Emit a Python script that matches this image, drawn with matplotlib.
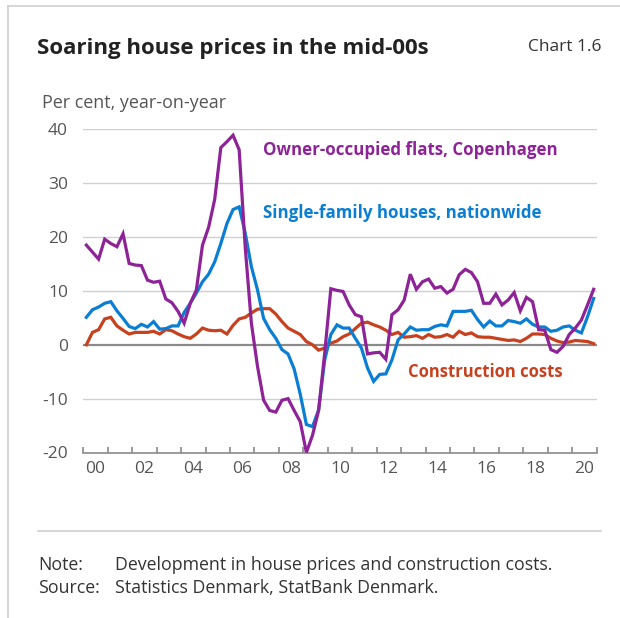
import numpy as np
import matplotlib
matplotlib.use("Agg")
import matplotlib.pyplot as plt
from matplotlib.lines import Line2D

# quarterly data, 2000Q1 - 2020Q4, per cent y/y
flats_cph = [18.5, 17.2, 15.9, 19.6, 18.8, 18.2, 20.6, 15.1, 14.8, 14.7, 12.0, 11.6,
             11.8, 8.5, 7.8, 6.2, 4.0, 7.7, 10.2, 18.5, 21.8, 27.0, 36.6, 37.7,
             38.9, 36.2, 18.0, 4.0, -4.0, -10.3, -12.2, -12.5, -10.3, -10.0, -12.2, -14.3,
             -20.0, -16.8, -12.2, -1.5, 10.4, 10.1, 9.9, 7.4, 5.6, 5.2, -1.7, -1.5,
             -1.4, -2.7, 5.6, 6.5, 8.3, 13.1, 10.3, 11.7, 12.2, 10.5, 10.8, 9.6,
             10.3, 13.0, 14.0, 13.4, 11.7, 7.7, 7.7, 9.4, 7.4, 8.3, 9.7, 6.3,
             8.8, 8.0, 2.8, 2.7, -0.9, -1.4, -0.3, 1.9, 3.1, 4.6, 7.4, 10.3]

houses_nat = [5.1, 6.5, 7.0, 7.7, 8.0, 6.3, 4.9, 3.4, 3.0, 3.8, 3.3, 4.3,
              2.9, 3.0, 3.5, 3.5, 6.0, 7.7, 9.6, 11.7, 13.1, 15.4, 18.8, 22.5,
              25.1, 25.6, 20.7, 14.5, 10.2, 4.9, 2.8, 1.2, -0.9, -1.7, -4.5, -9.2,
              -14.8, -15.2, -12.1, -2.8, 1.9, 3.7, 3.1, 3.1, 1.2, -0.6, -4.3, -6.8,
              -5.5, -5.4, -2.8, 0.9, 2.0, 3.3, 2.7, 2.8, 2.8, 3.4, 3.7, 3.5,
              6.2, 6.2, 6.2, 6.4, 4.7, 3.3, 4.4, 3.5, 3.5, 4.5, 4.3, 4.0,
              4.8, 3.8, 3.3, 3.3, 2.5, 2.7, 3.3, 3.5, 2.7, 2.2, 5.2, 8.6]

constr_costs = [0.0, 2.3, 2.8, 4.8, 5.1, 3.5, 2.7, 2.0, 2.3, 2.3, 2.3, 2.5,
                2.0, 2.8, 2.6, 2.0, 1.5, 1.2, 2.0, 3.1, 2.7, 2.6, 2.7, 2.0,
                3.6, 4.8, 5.1, 5.9, 6.6, 6.7, 6.7, 5.7, 4.3, 3.1, 2.5, 1.9,
                0.6, 0.0, -1.0, -0.6, 0.3, 0.7, 1.5, 2.0, 3.0, 4.0, 4.2, 3.7,
                3.3, 2.7, 1.9, 2.3, 1.4, 1.5, 1.7, 1.2, 1.9, 1.4, 1.5, 1.9,
                1.4, 2.5, 1.9, 2.2, 1.5, 1.4, 1.4, 1.2, 1.0, 0.8, 0.9, 0.6,
                1.2, 2.0, 2.0, 1.9, 1.2, 0.7, 0.4, 0.5, 0.8, 0.7, 0.6, 0.2]

year_labels = ["00", "02", "04", "06", "08", "10", "12", "14", "16", "18", "20"]
y_ticks = [-20, -10, 0, 10, 20, 30, 40]

purple = "#8E2398"
blue = "#0A7ED3"
red = "#C8411F"
grey_txt = "#555555"

plt.rcParams['font.family'] = ['Open Sans', 'DejaVu Sans']

fig = plt.figure(figsize=(6.2, 6.18), dpi=100)
W, H = 620, 618

def fx(px):
  return px / W

def fy(py):
  return 1 - py / H

ax = fig.add_axes([fx(83.3), fy(452.5), fx(596.7) - fx(83.3), fy(129.3) - fy(452.5)])

t = 2000 + (np.arange(len(flats_cph)) + 0.5) / 4
ax.plot(t, constr_costs, color=red, lw=2.3, solid_joinstyle='miter', zorder=3)
ax.plot(t, houses_nat, color=blue, lw=2.3, solid_joinstyle='miter', zorder=4)
ax.plot(t, flats_cph, color=purple, lw=2.3, solid_joinstyle='miter', zorder=5)

ax.set_xlim(2000, 2021)
ax.set_ylim(-20, 40)

for v in y_ticks[1:]:
  if v == 0:
    ax.axhline(0, color="#8a8a8a", lw=1.6, zorder=2)
  else:
    ax.axhline(v, color="#d0d0d0", lw=1.0, zorder=1)

for s in ["top", "right", "left"]:
  ax.spines[s].set_visible(False)
ax.spines["bottom"].set_color("#8a8a8a")
ax.spines["bottom"].set_linewidth(1.2)

ax.set_yticks(y_ticks)
ax.set_yticklabels([str(v) for v in y_ticks])
ax.tick_params(axis="y", length=0, pad=11, labelsize=12.5, labelcolor=grey_txt)

ax.set_xticks(np.arange(2000, 2022))
ax.set_xticklabels([])
ax.tick_params(axis="x", which="major", direction="in", length=4, width=1.2, color="#8a8a8a")
ax.set_xticks(np.arange(2000, 2021, 2) + 0.5, minor=True)
ax.set_xticklabels(year_labels, minor=True)
ax.tick_params(axis="x", which="minor", length=0, pad=6, labelsize=12.5, labelcolor=grey_txt)

# series labels
ax.text(2007.35, 36.2, "Owner-occupied flats, Copenhagen", color=purple, fontsize=12.2,
        fontweight="bold", va="center", ha="left")
ax.text(2007.35, 24.5, "Single-family houses, nationwide", color=blue, fontsize=12.2,
        fontweight="bold", va="center", ha="left")
ax.text(2013.3, -5.1, "Construction costs", color=red, fontsize=12.0,
        fontweight="bold", va="center", ha="left")

# header
fig.text(fx(37), fy(54), "Soaring house prices in the mid-00s", fontsize=16,
         fontweight="bold", color="#222222", va="baseline", ha="left")
fig.text(fx(601), fy(51), "Chart 1.6", fontsize=12.5, color="#333333",
         va="baseline", ha="right")
fig.text(fx(42), fy(107.5), "Per cent, year-on-year", fontsize=12.9, color=grey_txt,
         va="baseline", ha="left")

# frame and footer rule
fig.add_artist(Line2D([fx(8), fx(8)], [fy(6), 0], color="#d0d0d0", lw=1.2))
fig.add_artist(Line2D([fx(8), 1], [fy(6), fy(6)], color="#d0d0d0", lw=1.2))
fig.add_artist(Line2D([fx(38), fx(601)], [fy(531), fy(531)], color="#d0d0d0", lw=1.2))

fig.text(fx(38), fy(570), "Note:", fontsize=12.8, color="#333333", va="baseline")
fig.text(fx(114.5), fy(570), "Development in house prices and construction costs.",
         fontsize=12.8, color="#333333", va="baseline")
fig.text(fx(38), fy(593), "Source:", fontsize=12.8, color="#333333", va="baseline")
fig.text(fx(114.5), fy(593), "Statistics Denmark, StatBank Denmark.",
         fontsize=12.8, color="#333333", va="baseline")

fig.savefig("out.png", dpi=100)
